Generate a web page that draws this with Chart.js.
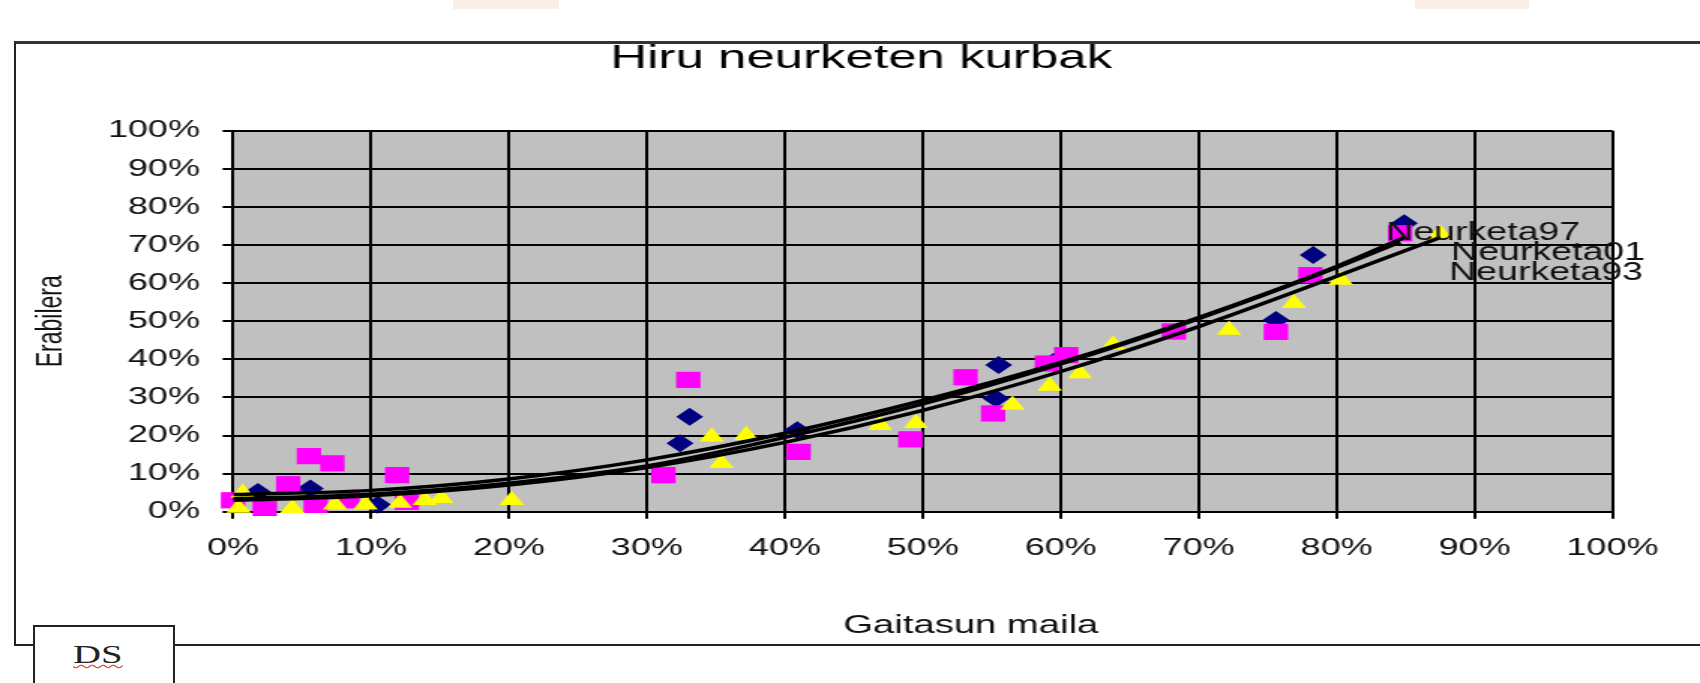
<!DOCTYPE html>
<html lang="eu">
<head>
<meta charset="UTF-8">
<title>Hiru neurketen kurbak</title>
<script src="https://cdn.jsdelivr.net/npm/chart.js"></script>
<style>
  html, body { margin: 0; padding: 0; background: #fff; overflow: hidden; }
  body { width: 1700px; height: 683px; position: relative; }
  .tab { position: absolute; top: 0; height: 9px; background: #fbeee6; }
  #frame { position: absolute; left: 14px; top: 41px; width: 1720px; height: 600px;
           border-left: 2px solid #222; border-top: 3px solid #333; border-bottom: 2px solid #222; }
  #chart { position: absolute; left: 0; top: 0; }
  #ds { position: absolute; left: 33px; top: 625px; width: 138px; height: 70px;
        border: 2px solid #222; background: #fff; }
  #ds span { position: absolute; left: 38px; top: 14px; font: 25px "Liberation Serif", serif; color: #222;
             transform: scaleX(1.55); transform-origin: left;
             text-decoration: underline wavy #d33; text-decoration-thickness: 1px; }
</style>
</head>
<body>
  <div class="tab" style="left:453px;width:106px"></div>
  <div class="tab" style="left:1415px;width:114px"></div>
  <div id="frame"></div>
  <!-- drawn narrow and stretched sideways, like the original picture -->
  <canvas id="chart" width="1133" height="683" style="width:1700px;height:683px"></canvas>
  <div id="ds"><span>DS</span></div>

<script>
  const chartTitle = 'Hiru neurketen kurbak';
  const xTitle = 'Gaitasun maila';
  const yTitle = 'Erabilera';
  const seriesNames = ['Neurketa97', 'Neurketa01', 'Neurketa93'];

  // measured points, in percent (x = Gaitasun maila, y = Erabilera)
  const x97 = [1.8, 5.6, 10.5, 32.4, 33.1, 40.9, 55.3, 55.5, 59.5, 75.6, 78.3, 84.9];
  const y97 = [5.2, 6.1, 1.8, 18.0, 24.9, 21.4, 29.7, 38.5, 39.4, 50.3, 67.4, 75.7];

  const x01 = [0, 2.3, 4.0, 5.5, 6.0, 7.2, 8.3, 11.9, 12.6, 31.2, 33.0, 41.0, 49.1, 53.1, 55.1, 59.0, 60.4, 68.2, 75.6, 78.1, 84.6];
  const y01 = [3.0, 1.0, 7.2, 14.6, 1.8, 12.7, 3.0, 9.6, 2.6, 9.6, 34.6, 15.7, 19.0, 35.3, 25.8, 38.9, 41.1, 47.3, 47.2, 62.1, 73.1];

  const x93 = [0.4, 0.7, 4.3, 7.4, 9.6, 12.1, 13.9, 15.1, 20.2, 34.7, 35.4, 37.2, 46.9, 49.5, 56.5, 59.2, 61.4, 63.8, 72.2, 76.9, 80.3, 87.5];
  const y93 = [1.0, 4.9, 0.9, 1.8, 1.8, 2.3, 3.0, 3.5, 3.0, 19.7, 12.7, 20.1, 22.7, 23.2, 28.0, 33.0, 36.3, 43.8, 47.7, 54.7, 60.8, 73.0];

  // trend curves
  const trendX97 = [0, 10, 20, 30, 40, 50, 60, 70, 80, 84.9];
  const trendY97 = [4.5, 5.6, 8.6, 13.6, 20.6, 29.2, 39.2, 51.0, 64.4, 72.0];
  const trendX01 = [0, 10, 20, 30, 40, 50, 60, 70, 80, 84.6];
  const trendY01 = [3.4, 4.6, 7.5, 12.0, 19.5, 28.3, 38.8, 50.7, 64.1, 70.8];
  const trendX93 = [0, 10, 20, 30, 40, 50, 60, 70, 80, 87.5];
  const trendY93 = [3.0, 4.2, 7.0, 11.6, 18.2, 26.6, 36.8, 48.6, 61.8, 72.0];

  const FONT = '"Liberation Sans", Arial, sans-serif';
  const labelShift = [[-12, -4], [34, 11], [6, 36]];

  const pts = (xs, ys) => xs.map((x, i) => ({ x: x, y: ys[i] }));

  function trend(xs, ys) {
    return {
      type: 'line', data: pts(xs, ys), order: 0,
      borderColor: '#000', borderWidth: 3.5, pointRadius: 0,
      cubicInterpolationMode: 'monotone', fill: false
    };
  }
  function marks(xs, ys, color, shape, r, order) {
    return {
      data: pts(xs, ys), order: order, clip: false,
      backgroundColor: color, borderColor: color, borderWidth: 0,
      pointStyle: shape, pointRadius: r, pointHoverRadius: r
    };
  }

  const plotBg = {
    id: 'plotBg',
    beforeDraw(chart) {
      const { ctx, chartArea: a } = chart;
      ctx.save();
      ctx.fillStyle = '#c0c0c0';
      ctx.fillRect(a.left, a.top, a.right - a.left, a.bottom - a.top);
      ctx.restore();
    }
  };

  const extraText = {
    id: 'extraText',
    afterDraw(chart) {
      const { ctx, chartArea: a } = chart;
      ctx.save();
      ctx.fillStyle = '#111';
      ctx.textBaseline = 'middle';
      ctx.font = '25.5px ' + FONT;
      ctx.textAlign = 'center';
      ctx.fillText(xTitle, (a.left + a.right) / 2 + 32, a.bottom + 114);
      // series names beside the end of each curve
      ctx.font = '25px ' + FONT;
      ctx.textAlign = 'left';
      seriesNames.forEach((name, i) => {
        const els = chart.getDatasetMeta(i).data;
        const last = els[els.length - 1];
        ctx.fillText(name, last.x + labelShift[i][0], last.y + labelShift[i][1]);
      });
      ctx.restore();
    }
  };

  new Chart(document.getElementById('chart'), {
    type: 'scatter',
    data: {
      datasets: [
        trend(trendX97, trendY97),
        trend(trendX01, trendY01),
        trend(trendX93, trendY93),
        marks(x97, y97, '#000080', 'rectRot', 9, 3),
        marks(x01, y01, '#ff00ff', 'rect', 11.5, 2),
        marks(x93, y93, '#ffff00', 'triangle', 9.5, 1)
      ]
    },
    options: {
      responsive: false,
      animation: false,
      layout: { padding: { left: 15, right: 0, top: 0, bottom: 0 } },
      plugins: {
        legend: { display: false },
        tooltip: { enabled: false },
        title: {
          display: true, text: chartTitle, color: '#000',
          font: { family: FONT, size: 34, weight: 'normal' },
          padding: { top: 38.5, bottom: 51.5 }
        }
      },
      scales: {
        x: {
          type: 'linear', min: 0, max: 100,
          ticks: { stepSize: 10, autoSkip: false, maxRotation: 0, padding: 15, color: '#111',
                   font: { family: FONT, size: 24 }, callback: v => v + '%' },
          grid: { color: '#000', lineWidth: 2, tickLength: 7, tickColor: '#000' },
          border: { color: '#000', width: 2 },
          afterFit: s => { s.height = 171.3; }
        },
        y: {
          min: 0, max: 100,
          ticks: { stepSize: 10, padding: 15, color: '#111',
                   font: { family: FONT, size: 24 }, callback: v => v + '%' },
          grid: { color: '#000', lineWidth: 2, tickLength: 7, tickColor: '#000' },
          border: { color: '#000', width: 2 },
          title: { display: true, text: yTitle, color: '#111',
                   font: { family: FONT, size: 23 }, padding: { top: 6, bottom: 0 } },
          afterFit: s => { s.width = 140.3; }
        },
        yr: {
          position: 'right', display: true,
          grid: { display: false }, ticks: { display: false }, border: { display: false },
          afterFit: s => { s.width = 58.3; }
        }
      }
    },
    plugins: [plotBg, extraText]
  });
</script>
</body>
</html>
